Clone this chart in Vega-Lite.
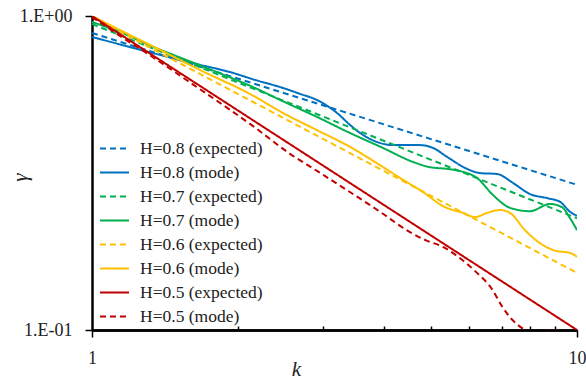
{
  "$schema": "https://vega.github.io/schema/vega-lite/v6.json",
  "width": 485,
  "height": 314,
  "autosize": "none",
  "padding": {"left": 92, "top": 16, "right": 9, "bottom": 49},
  "background": "white",
  "config": {
    "view": {"stroke": null},
    "style": {"guide-label": {"font": "Liberation Serif", "fill": "#222"}, "guide-title": {"font": "Liberation Serif", "fill": "#222"}},
    "axis": {"labelFont": "Liberation Serif", "titleFont": "Liberation Serif", "labelColor": "#222", "titleColor": "#222", "domainColor": "#000", "tickColor": "#000", "grid": false},
    "legend": {"orient": "none", "legendX": 7, "legendY": 117, "padding": 0, "symbolType": "stroke", "symbolSize": 841, "symbolStrokeWidth": 2, "labelFont": "Liberation Serif", "labelFontSize": 17.5, "labelColor": "#222", "labelOffset": 10, "rowPadding": 0, "symbolOffset": 0, "labelLimit": 300}
  },
  "data": {"values": [
    {"s":"H=0.8 (expected)","k":1,"g":0.883},{"s":"H=0.8 (expected)","k":10,"g":0.290},
    {"s":"H=0.8 (mode)","k":1,"g":0.857},{"s":"H=0.8 (mode)","k":1.142,"g":0.812},{"s":"H=0.8 (mode)","k":1.317,"g":0.766},{"s":"H=0.8 (mode)","k":1.67,"g":0.699},{"s":"H=0.8 (mode)","k":1.925,"g":0.663},{"s":"H=0.8 (mode)","k":2.168,"g":0.626},{"s":"H=0.8 (mode)","k":2.476,"g":0.59},{"s":"H=0.8 (mode)","k":2.685,"g":0.565},{"s":"H=0.8 (mode)","k":2.91,"g":0.54},{"s":"H=0.8 (mode)","k":3.201,"g":0.491},{"s":"H=0.8 (mode)","k":3.404,"g":0.45},{"s":"H=0.8 (mode)","k":3.621,"g":0.418},{"s":"H=0.8 (mode)","k":3.869,"g":0.397},{"s":"H=0.8 (mode)","k":4.175,"g":0.388},{"s":"H=0.8 (mode)","k":4.746,"g":0.388},{"s":"H=0.8 (mode)","k":5.049,"g":0.38},{"s":"H=0.8 (mode)","k":5.395,"g":0.356},{"s":"H=0.8 (mode)","k":5.933,"g":0.326},{"s":"H=0.8 (mode)","k":6.31,"g":0.316},{"s":"H=0.8 (mode)","k":6.841,"g":0.314},{"s":"H=0.8 (mode)","k":7.379,"g":0.294},{"s":"H=0.8 (mode)","k":8.0,"g":0.271},{"s":"H=0.8 (mode)","k":8.676,"g":0.263},{"s":"H=0.8 (mode)","k":9.224,"g":0.256},{"s":"H=0.8 (mode)","k":9.674,"g":0.238},{"s":"H=0.8 (mode)","k":10,"g":0.231},
    {"s":"H=0.7 (expected)","k":1,"g":0.943},{"s":"H=0.7 (expected)","k":10,"g":0.227},
    {"s":"H=0.7 (mode)","k":1,"g":0.957},{"s":"H=0.7 (mode)","k":1.142,"g":0.889},{"s":"H=0.7 (mode)","k":1.317,"g":0.806},{"s":"H=0.7 (mode)","k":1.67,"g":0.696},{"s":"H=0.7 (mode)","k":2.168,"g":0.59},{"s":"H=0.7 (mode)","k":2.476,"g":0.535},{"s":"H=0.7 (mode)","k":2.91,"g":0.477},{"s":"H=0.7 (mode)","k":3.404,"g":0.424},{"s":"H=0.7 (mode)","k":3.981,"g":0.38},{"s":"H=0.7 (mode)","k":4.59,"g":0.343},{"s":"H=0.7 (mode)","k":4.977,"g":0.33},{"s":"H=0.7 (mode)","k":5.395,"g":0.326},{"s":"H=0.7 (mode)","k":5.821,"g":0.319},{"s":"H=0.7 (mode)","k":6.221,"g":0.305},{"s":"H=0.7 (mode)","k":6.712,"g":0.269},{"s":"H=0.7 (mode)","k":7.275,"g":0.245},{"s":"H=0.7 (mode)","k":8.0,"g":0.239},{"s":"H=0.7 (mode)","k":8.8,"g":0.252},{"s":"H=0.7 (mode)","k":9.313,"g":0.246},{"s":"H=0.7 (mode)","k":9.674,"g":0.227},{"s":"H=0.7 (mode)","k":10,"g":0.208},
    {"s":"H=0.6 (expected)","k":1,"g":0.993},{"s":"H=0.6 (expected)","k":10,"g":0.152},
    {"s":"H=0.6 (mode)","k":1,"g":1.0},{"s":"H=0.6 (mode)","k":1.142,"g":0.902},{"s":"H=0.6 (mode)","k":1.317,"g":0.809},{"s":"H=0.6 (mode)","k":1.67,"g":0.673},{"s":"H=0.6 (mode)","k":2.138,"g":0.56},{"s":"H=0.6 (mode)","k":2.476,"g":0.491},{"s":"H=0.6 (mode)","k":2.91,"g":0.433},{"s":"H=0.6 (mode)","k":3.404,"g":0.383},{"s":"H=0.6 (mode)","k":3.925,"g":0.335},{"s":"H=0.6 (mode)","k":4.317,"g":0.305},{"s":"H=0.6 (mode)","k":4.814,"g":0.275},{"s":"H=0.6 (mode)","k":5.292,"g":0.248},{"s":"H=0.6 (mode)","k":5.821,"g":0.236},{"s":"H=0.6 (mode)","k":6.163,"g":0.229},{"s":"H=0.6 (mode)","k":6.523,"g":0.236},{"s":"H=0.6 (mode)","k":6.937,"g":0.241},{"s":"H=0.6 (mode)","k":7.275,"g":0.236},{"s":"H=0.6 (mode)","k":7.811,"g":0.208},{"s":"H=0.6 (mode)","k":8.39,"g":0.189},{"s":"H=0.6 (mode)","k":9.008,"g":0.179},{"s":"H=0.6 (mode)","k":9.674,"g":0.176},{"s":"H=0.6 (mode)","k":10,"g":0.171},
    {"s":"H=0.5 (expected)","k":1,"g":1.0},{"s":"H=0.5 (expected)","k":10,"g":0.1},
    {"s":"H=0.5 (mode)","k":1,"g":0.993},{"s":"H=0.5 (mode)","k":1.142,"g":0.864},{"s":"H=0.5 (mode)","k":1.286,"g":0.768},{"s":"H=0.5 (mode)","k":1.631,"g":0.599},{"s":"H=0.5 (mode)","k":2.148,"g":0.446},{"s":"H=0.5 (mode)","k":2.56,"g":0.364},{"s":"H=0.5 (mode)","k":2.91,"g":0.321},{"s":"H=0.5 (mode)","k":3.925,"g":0.238},{"s":"H=0.5 (mode)","k":4.525,"g":0.205},{"s":"H=0.5 (mode)","k":4.883,"g":0.193},{"s":"H=0.5 (mode)","k":5.292,"g":0.184},{"s":"H=0.5 (mode)","k":5.631,"g":0.173},{"s":"H=0.5 (mode)","k":6.221,"g":0.152},{"s":"H=0.5 (mode)","k":6.68,"g":0.135},{"s":"H=0.5 (mode)","k":7.004,"g":0.119},{"s":"H=0.5 (mode)","k":7.345,"g":0.108},{"s":"H=0.5 (mode)","k":7.811,"g":0.1},{"s":"H=0.5 (mode)","k":8.2,"g":0.096},{"s":"H=0.5 (mode)","k":8.72,"g":0.0995},{"s":"H=0.5 (mode)","k":9.1,"g":0.0995},{"s":"H=0.5 (mode)","k":9.6,"g":0.094},{"s":"H=0.5 (mode)","k":10,"g":0.09}
  ]},
  "layer": [
    {
      "mark": {"type": "rule", "strokeOpacity": 0},
      "encoding": {
        "x": {"field": "k", "type": "quantitative", "scale": {"type": "log", "domain": [1, 10], "nice": false},
              "axis": {"orient": "bottom", "values": [2,3,4,5,6,7,8,9], "tickSize": -4, "tickWidth": 1.5, "labels": false, "domain": true, "domainWidth": 2.5, "domainColor": "#000", "title": null}}
      }
    },
    {
      "mark": {"type": "line", "strokeWidth": 2, "interpolate": "monotone", "clip": true},
      "encoding": {
        "x": {"field": "k", "type": "quantitative", "scale": {"type": "log", "domain": [1, 10], "nice": false},
              "axis": {"orient": "bottom", "values": [1, 10], "domain": true, "ticks": true, "tickSize": 7, "tickWidth": 1.5, "domainWidth": 2.5, "labelFontSize": 18, "labelPadding": 12, "labelFlush": false,
                       "title": "k", "titleFontStyle": "italic", "titleFontWeight": "normal", "titleFontSize": 21, "titleX": 204, "titleY": 45, "titleAlign": "center", "titleBaseline": "alphabetic"}},
        "y": {"field": "g", "type": "quantitative", "scale": {"type": "log", "domain": [0.1, 1], "nice": false},
              "axis": {"values": [0.1, 1], "labelExpr": "datum.value >= 0.5 ? '1.E+00' : '1.E-01'", "domain": true, "tickSize": 7, "tickWidth": 1.5, "domainWidth": 2.5, "labelFontSize": 18, "labelPadding": 13, "labelFlush": false, "labelBaseline": "middle",
                       "title": "γ", "titleFontStyle": "italic", "titleFontWeight": "normal", "titleFontSize": 21, "titleAngle": -90, "titleX": -72, "titleY": 161, "titleAlign": "center", "titleBaseline": "middle"}},
        "color": {"field": "s", "type": "nominal",
                  "scale": {"domain": ["H=0.8 (expected)","H=0.8 (mode)","H=0.7 (expected)","H=0.7 (mode)","H=0.6 (expected)","H=0.6 (mode)","H=0.5 (expected)","H=0.5 (mode)"],
                            "range": ["#0070C0","#0070C0","#00B050","#00B050","#FFC000","#FFC000","#C00000","#C00000"]},
                  "legend": {"title": null, "labelFont": "Liberation Serif", "labelFontSize": 17.5}},
        "strokeDash": {"field": "s", "type": "nominal",
                  "scale": {"domain": ["H=0.8 (expected)","H=0.8 (mode)","H=0.7 (expected)","H=0.7 (mode)","H=0.6 (expected)","H=0.6 (mode)","H=0.5 (expected)","H=0.5 (mode)"],
                            "range": [[6,4],[1,0],[6,4],[1,0],[6,4],[1,0],[1,0],[6,4]]},
                  "legend": {"title": null, "labelFont": "Liberation Serif", "labelFontSize": 17.5}}
      }
    }
  ],
  "resolve": {"axis": {"x": "independent"}}
}
